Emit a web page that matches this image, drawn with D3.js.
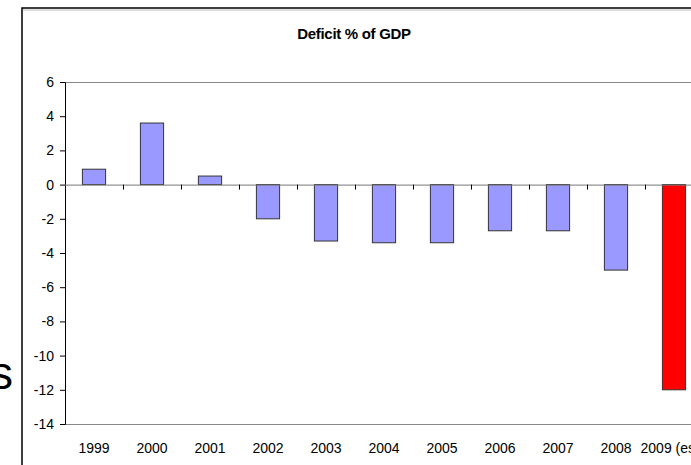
<!DOCTYPE html>
<html>
<head>
<meta charset="utf-8">
<script src="https://cdn.jsdelivr.net/npm/d3@7"></script>
<style>
  body { margin: 0; background: #fff; overflow: hidden; }
  svg { display: block; font-family: Arial, "Liberation Sans", sans-serif; }
</style>
</head>
<body>
<svg id="chart" width="691" height="465"></svg>
<script>
const years = ['1999', '2000', '2001', '2002', '2003', '2004', '2005', '2006', '2007', '2008', '2009 (est.)']
const deficit = [0.9, 3.6, 0.5, -2.0, -3.3, -3.4, -3.4, -2.7, -2.7, -5.0, -12.0]
const yTicks = [6, 4, 2, 0, -2, -4, -6, -8, -10, -12, -14]
const highlight = '2009 (est.)'

var svg = d3.select('#chart')

// plot area, runs off the right edge like the slide it came from
var plotLeft = 65, plotTop = 82, plotBottom = 424, step = 58
var x = d3.scaleBand()
	.domain(years)
	.range([plotLeft, plotLeft + years.length * step])
	.paddingInner(0.6)
	.paddingOuter(0.3)
var y = d3.scaleLinear().domain([-14, 6]).range([plotBottom, plotTop])

// stray letter from the slide text on the left
svg.append('text')
	.attr('x', 13).attr('y', 389)
	.attr('text-anchor', 'end')
	.attr('font-size', 46)
	.text('s')

// chart area frame
svg.append('rect')
	.attr('x', 22).attr('y', 8)
	.attr('width', 800).attr('height', 600)
	.attr('fill', 'none').attr('stroke', '#000').attr('stroke-width', 1.5)
svg.append('line')
	.attr('x1', 23).attr('x2', 691).attr('y1', 10).attr('y2', 10)
	.attr('stroke', '#bbb')

svg.append('text')
	.attr('x', 354).attr('y', 39)
	.attr('text-anchor', 'middle')
	.attr('font-size', 15).attr('font-weight', 'bold')
	.attr('letter-spacing', -0.3)
	.text('Deficit % of GDP')

// plot area border (top and bottom)
svg.append('line')
	.attr('x1', plotLeft).attr('x2', 691).attr('y1', plotTop + 0.5).attr('y2', plotTop + 0.5)
	.attr('stroke', '#888')
svg.append('line')
	.attr('x1', plotLeft).attr('x2', 691).attr('y1', plotBottom + 0.5).attr('y2', plotBottom + 0.5)
	.attr('stroke', '#888')

// bars
svg.selectAll('rect.bar')
	.data(years)
	.enter().append('rect')
	.attr('class', 'bar')
	.attr('x', d => x(d))
	.attr('width', x.bandwidth())
	.attr('y', (d, i) => y(Math.max(0, deficit[i])))
	.attr('height', (d, i) => Math.abs(y(deficit[i]) - y(0)))
	.attr('fill', d => d === highlight ? '#ff0000' : '#9999ff')
	.attr('stroke', '#333').attr('stroke-width', 1)

// y axis
var yAxis = svg.append('g')
	.attr('transform', `translate(${plotLeft},0)`)
	.call(d3.axisLeft(y).tickValues(yTicks).tickSize(5).tickPadding(6).tickFormat(d => d < 0 ? '-' + Math.abs(d) : d))
	.attr('font-family', 'Arial, "Liberation Sans", sans-serif')
yAxis.selectAll('text').attr('font-size', 14).attr('fill', '#000')
yAxis.selectAll('line').attr('stroke', '#000')
yAxis.select('.domain').attr('stroke', '#000')

// zero line with category ticks
svg.append('line')
	.attr('x1', plotLeft).attr('x2', 691).attr('y1', y(0) + 0.5).attr('y2', y(0) + 0.5)
	.attr('stroke', '#777')
svg.selectAll('line.cat')
	.data(years.slice(1))
	.enter().append('line')
	.attr('class', 'cat')
	.attr('x1', d => x(d) - x.step() * x.paddingInner() / 2 + 0.5)
	.attr('x2', d => x(d) - x.step() * x.paddingInner() / 2 + 0.5)
	.attr('y1', y(0)).attr('y2', y(0) + 5)
	.attr('stroke', '#000')

// category labels at the bottom
svg.selectAll('text.year')
	.data(years)
	.enter().append('text')
	.attr('class', 'year')
	.attr('x', d => x(d) + x.bandwidth() / 2)
	.attr('y', 453)
	.attr('text-anchor', 'middle')
	.attr('font-size', 14)
	.text(d => d)
</script>
</body>
</html>
